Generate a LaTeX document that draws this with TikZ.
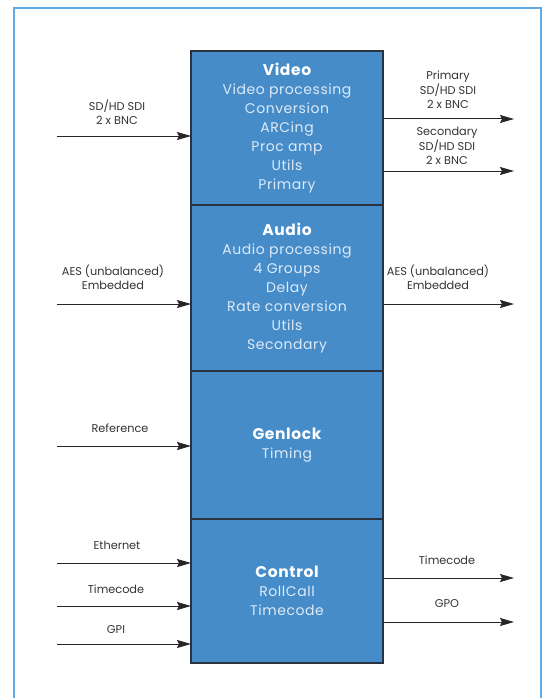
\documentclass[tikz,border=0pt]{standalone}
\usepackage{fontspec}
\newfontfamily\blockfont[LetterSpace=4]{Poppins}
\newfontfamily\lblfont{Poppins}
\usetikzlibrary{arrows.meta,positioning}
\definecolor{framecol}{RGB}{98,168,228}
\definecolor{blockfill}{RGB}{69,140,201}
\definecolor{blockline}{RGB}{40,52,66}
\definecolor{blocktext}{RGB}{222,234,247}
\newcommand{\blktitle}[1]{{\color{white}\fontsize{15.5}{19}\selectfont\bfseries #1}}

\begin{document}
\begin{tikzpicture}[x=1pt,y=-1pt,
	block/.style={draw=blockline, fill=blockfill, line width=1.2pt, outer sep=0pt, inner sep=0pt,
		minimum width=192pt, align=center, text=blocktext, font=\blockfont\fontsize{14}{19}\selectfont},
	sig/.style={draw=black!85, line width=1pt, -{Stealth[length=14pt,width=8pt,inset=2pt]}},
	lbl/.style={align=center, text=black!80, font=\lblfont\fontsize{11.3}{14.5}\selectfont}]
	\useasboundingbox (0,0) rectangle (547,698);
	\draw [framecol, line width=1.6pt] (14,698) -- (14,8) -- (541,8) -- (541,698);

	% the four blocks, stacked
	\node [block, minimum height=154pt, anchor=north] (video) at (287,51)
		{\blktitle{Video}\\Video processing\\Conversion\\ARCing\\Proc amp\\Utils\\Primary};
	\node [block, minimum height=166pt, below=0pt of video] (audio)
		{\blktitle{Audio}\\Audio processing\\4 Groups\\Delay\\Rate conversion\\Utils\\Secondary};
	\node [block, minimum height=148pt, below=0pt of audio] (genlock)
		{\blktitle{Genlock}\\Timing};
	\node [block, minimum height=144pt, below=0pt of genlock] (control)
		{\blktitle{Control}\\RollCall\\Timecode};

	% inputs
	\coordinate (sdiin) at (57,136);
	\draw [sig] (sdiin) -- (sdiin -| video.west);
	\node [lbl] (sdiinlbl) at (117,112) {SD/HD SDI\\2 x BNC};

	\coordinate (aesin) at (57,304);
	\draw [sig] (aesin) -- (aesin -| audio.west);
	\node [lbl] (aesinlbl) at (113,277.5) {AES (unbalanced)\\Embedded};

	\coordinate (refin) at (57,446);
	\draw [sig] (refin) -- (refin -| genlock.west);
	\node [lbl] (refinlbl) at (120,428) {Reference};

	\coordinate (ethin) at (57,563);
	\draw [sig] (ethin) -- (ethin -| control.west);
	\node [lbl] (ethinlbl) at (117,545) {Ethernet};

	\coordinate (tcin) at (57,606);
	\draw [sig] (tcin) -- (tcin -| control.west);
	\node [lbl] (tcinlbl) at (116,589) {Timecode};

	\coordinate (gpiin) at (57,644);
	\draw [sig] (gpiin) -- (gpiin -| control.west);
	\node [lbl] (gpiinlbl) at (116,630) {GPI};

	% outputs
	\coordinate (priout) at (514,119);
	\draw [sig] (priout -| video.east) -- (priout);
	\node [lbl] (prioutlbl) at (448,90) {Primary\\SD/HD SDI\\2 x BNC};

	\coordinate (secout) at (514,171);
	\draw [sig] (secout -| video.east) -- (secout);
	\node [lbl] (secoutlbl) at (447,146) {Secondary\\SD/HD SDI\\2 x BNC};

	\coordinate (aesout) at (514,304);
	\draw [sig] (aesout -| audio.east) -- (aesout);
	\node [lbl] (aesoutlbl) at (438,277.5) {AES (unbalanced)\\Embedded};

	\coordinate (tcout) at (514,578);
	\draw [sig] (tcout -| control.east) -- (tcout);
	\node [lbl] (tcoutlbl) at (447,560) {Timecode};

	\coordinate (gpoout) at (514,622);
	\draw [sig] (gpoout -| control.east) -- (gpoout);
	\node [lbl] (gpooutlbl) at (447,604) {GPO};
\end{tikzpicture}
\end{document}
